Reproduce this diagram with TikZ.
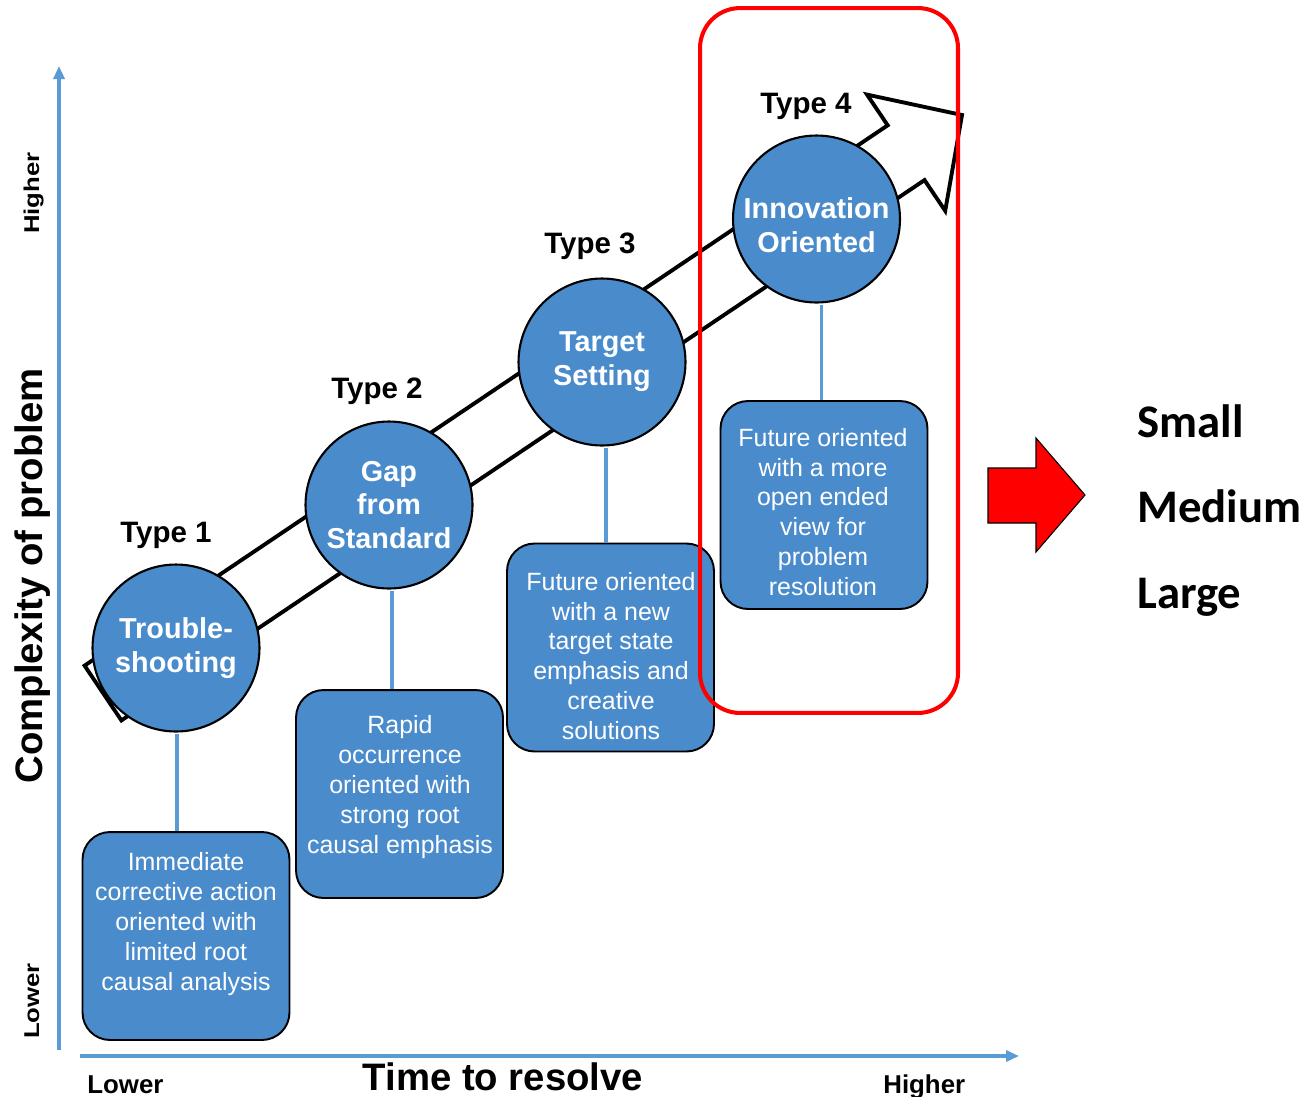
\documentclass[tikz,border=0pt]{standalone}
\usepackage{graphicx}
\usepackage{fontspec}
\setmainfont{Liberation Sans}
\newfontfamily\calfont{Carlito}
\usetikzlibrary{arrows.meta,calc}
\definecolor{bubble}{RGB}{74,139,204}
\definecolor{axisblue}{RGB}{91,155,213}
\definecolor{alertred}{RGB}{255,0,0}

\begin{document}
\begin{tikzpicture}[x=0.02cm,y=-0.02cm,
  bubbletext/.style={inner sep=0pt,text=white,align=center,font=\bfseries\fontsize{16.4}{19.3}\selectfont},
  bubble/.style={circle,draw=black,line width=1.2pt,fill=bubble,minimum size=3.34cm,bubbletext},
  card/.style={rectangle,rounded corners=0.55cm,draw=black,line width=1.1pt,fill=bubble,
    minimum width=4.14cm,minimum height=4.16cm,inner sep=0pt},
  cardtext/.style={text=white,align=center,inner sep=0pt,font=\fontsize{14.2}{17}\selectfont},
  typelabel/.style={anchor=base west,inner sep=0pt,font=\bfseries\fontsize{16.8}{20}\selectfont},
  stem/.style={draw=axisblue,line width=2.2pt,shorten <=0.7pt},
  axis/.style={draw=axisblue,line width=1.8pt,-{Triangle[length=0.26cm,width=0.22cm]}},
  axislabel/.style={inner sep=0pt,font=\bfseries\fontsize{21.8}{24}\selectfont},
  endlabel/.style={inner sep=0pt,font=\bfseries\fontsize{14.7}{17}\selectfont},
  sidelabel/.style={inner sep=0pt,rotate=90,anchor=base,font=\bfseries\fontsize{12.2}{14}\selectfont},
  sizelabel/.style={anchor=base west,inner sep=0pt,font=\calfont\bfseries\fontsize{26.6}{30}\selectfont}
]
% canvas
\useasboundingbox (0,0) rectangle (1307,1096);

% axes
\coordinate (yfoot) at (59,1050);
\coordinate (ytop) at (59,66);
\draw[axis] (yfoot) -- (ytop);
\coordinate (xfoot) at (80,1056);
\coordinate (xtip) at (1019,1056);
\draw[axis] (xfoot) -- (xtip);

% hollow progression arrow
\draw[line width=2.2pt,fill=white,line join=miter]
  (84.6,665.6) -- (887.7,125.3) -- (867,94.6) -- (962,115)
  -- (945.2,210.8) -- (924.5,180.1) -- (121.4,720.4) -- cycle;

% problem types
\node[bubble] (c1) at (176,648) {Trouble-\\shooting};
\node[bubble] (c2) at (389,505) {Gap\\from\\Standard};
\node[bubble] (c3) at (602,362) {Target\\Setting};
\node[bubble] (c4) at (816.5,219) {};
\node[bubbletext] (c4t) at (816.5,225) {Innovation\\Oriented};

% description cards
\node[card] (b1) at (186,936) {};
\node[card] (b2) at (399.5,794) {};
\node[card] (b3) at (610.5,647.5) {};
\node[card] (b4) at (824,505) {};

% stems from bubbles down to cards
\coordinate (k1) at ($(c1.south)+(1,0)$);
\coordinate (k2) at ($(c2.south)+(3,0)$);
\coordinate (k3) at ($(c3.south)+(4,0)$);
\coordinate (k4) at ($(c4.south)+(5,0)$);
\draw[stem] (k1) -- (k1 |- b1.north);
\draw[stem] (k2) -- (k2 |- b2.north);
\draw[stem] (k3) -- (k3 |- b3.north);
\draw[stem] (k4) -- (k4 |- b4.north);

\node[cardtext] (t1) at (186,924) {Immediate\\corrective action\\oriented with\\limited root\\causal analysis};
\node[cardtext] (t2) at (400,787) {Rapid\\occurrence\\oriented with\\strong root\\causal emphasis};
\node[cardtext] (t3) at (611,656) {Future oriented\\with a new\\target state\\emphasis and\\creative\\solutions};
\node[cardtext] (t4) at (823,512) {Future oriented\\with a more\\open ended\\view for\\problem\\resolution};

% type labels
\node[typelabel] (ty1) at (120,542) {Type 1};
\node[typelabel] (ty2) at (331,398) {Type 2};
\node[typelabel] (ty3) at (544,253) {Type 3};
\node[typelabel] (ty4) at (760,113) {Type 4};

% axis labels
\node[axislabel,rotate=90,anchor=base] (ylab) at (42,576) {Complexity of problem};
\node[sidelabel] (yhi) at (39,193) {\scalebox{1.2}[1]{Higher}};
\node[sidelabel] (ylo) at (39,1001) {\scalebox{1.2}[1]{Lower}};
\node[axislabel,anchor=base] (xlab) at (503,1090) {Time to resolve};
\node[endlabel,anchor=base west] (xlo) at (87,1093) {Lower};
\node[endlabel,anchor=base west] (xhi) at (883,1093) {Higher};

% highlight frame around type 4
\node[draw=alertred,line width=2.3pt,rounded corners=0.8cm,minimum width=5.16cm,
  minimum height=14.1cm,inner sep=0pt] (focus) at (829,360.5) {};

% red block arrow and size scale
\draw[fill=alertred,line width=0.6pt,line join=miter]
  (988,468) -- (1036,468) -- (1036,438) -- (1085,495) -- (1036,552) -- (1036,523) -- (988,523) -- cycle;
\node[sizelabel] (small) at (1137,437) {Small};
\node[sizelabel] (medium) at (1137,522) {Medium};
\node[sizelabel] (large) at (1137,608) {Large};
\end{tikzpicture}
\end{document}
